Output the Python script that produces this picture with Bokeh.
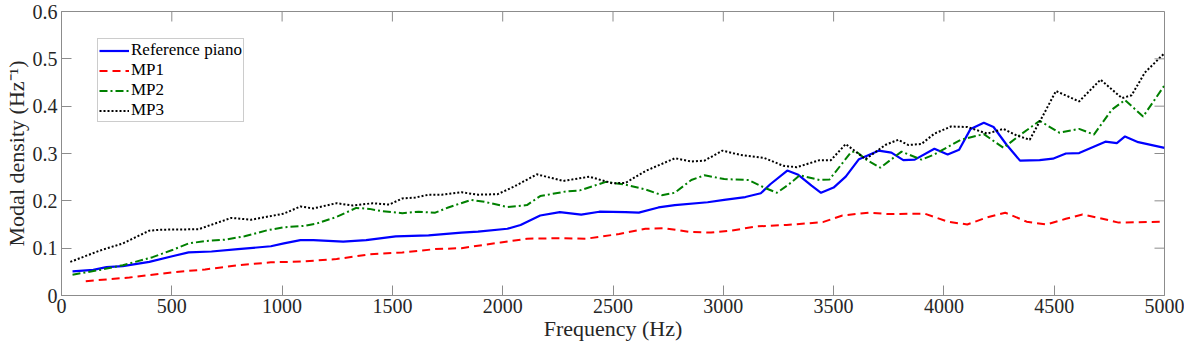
import math
from bokeh.plotting import figure
from bokeh.models import Legend, LegendItem, Range1d
from bokeh.embed import file_html
from bokeh.resources import INLINE

# ---------------- data ----------------
ref_f = [50, 144, 204, 278, 398, 502, 576, 680, 800, 949, 1008, 1083, 1142, 1277, 1381, 1515, 1664, 1813,
         1888, 2021, 2081, 2170, 2259, 2356, 2438, 2557, 2617, 2706, 2780, 2929, 3004, 3100, 3170, 3213,
         3290, 3340, 3400, 3443, 3500, 3555, 3615, 3704, 3762, 3816, 3868, 3957, 4017, 4069, 4121, 4181,
         4225, 4285, 4345, 4434, 4494, 4553, 4613, 4732, 4784, 4821, 4881, 5000]
ref_y = [0.051, 0.054, 0.060, 0.062, 0.071, 0.083, 0.091, 0.093, 0.098, 0.104, 0.110, 0.117, 0.117, 0.114,
         0.117, 0.125, 0.127, 0.133, 0.135, 0.141, 0.149, 0.169, 0.176, 0.171, 0.177, 0.176, 0.175, 0.186,
         0.191, 0.197, 0.202, 0.208, 0.216, 0.235, 0.264, 0.255, 0.232, 0.217, 0.228, 0.251, 0.288, 0.306,
         0.302, 0.286, 0.287, 0.310, 0.298, 0.308, 0.352, 0.365, 0.356, 0.318, 0.285, 0.286, 0.289, 0.300,
         0.301, 0.325, 0.322, 0.336, 0.324, 0.312]

mp1_f = [110, 204, 308, 502, 651, 800, 949, 1098, 1247, 1396, 1545, 1694, 1813, 1991, 2110, 2259, 2379,
         2528, 2647, 2736, 2855, 2944, 3034, 3153, 3287, 3451, 3540, 3659, 3749, 3913, 4017, 4106, 4196,
         4278, 4375, 4464, 4553, 4628, 4702, 4792, 5000]
mp1_y = [0.030, 0.034, 0.038, 0.049, 0.055, 0.064, 0.070, 0.072, 0.077, 0.087, 0.091, 0.098, 0.100, 0.112,
         0.120, 0.121, 0.120, 0.130, 0.141, 0.142, 0.134, 0.133, 0.137, 0.146, 0.149, 0.155, 0.169, 0.175,
         0.172, 0.173, 0.156, 0.150, 0.165, 0.175, 0.156, 0.150, 0.162, 0.171, 0.164, 0.154, 0.156]

mp2_f = [50, 174, 278, 413, 502, 576, 651, 740, 830, 934, 1008, 1098, 1157, 1247, 1336, 1396, 1455, 1545,
         1619, 1694, 1753, 1857, 1917, 2021, 2110, 2170, 2289, 2349, 2468, 2557, 2647, 2721, 2780, 2855,
         2915, 3004, 3115, 3190, 3243, 3295, 3347, 3436, 3481, 3578, 3600, 3645, 3712, 3808, 3898, 3957,
         4076, 4181, 4270, 4345, 4434, 4523, 4613, 4680, 4762, 4821, 4903, 5000]
mp2_y = [0.044, 0.054, 0.064, 0.081, 0.096, 0.110, 0.115, 0.118, 0.125, 0.138, 0.144, 0.147, 0.152, 0.166,
         0.185, 0.183, 0.178, 0.174, 0.177, 0.175, 0.186, 0.202, 0.198, 0.187, 0.191, 0.210, 0.220, 0.222,
         0.240, 0.234, 0.224, 0.212, 0.217, 0.244, 0.254, 0.246, 0.244, 0.227, 0.217, 0.234, 0.254, 0.244,
         0.245, 0.302, 0.305, 0.288, 0.270, 0.304, 0.287, 0.298, 0.329, 0.341, 0.312, 0.339, 0.369, 0.344,
         0.352, 0.340, 0.393, 0.413, 0.378, 0.444]

mp3_f = [40, 174, 278, 398, 450, 621, 770, 859, 1008, 1083, 1142, 1247, 1321, 1411, 1485, 1545, 1604, 1664,
         1723, 1813, 1888, 1977, 2051, 2155, 2274, 2393, 2498, 2557, 2647, 2781, 2855, 2915, 2996, 3078,
         3183, 3272, 3333, 3436, 3488, 3555, 3645, 3734, 3793, 3838, 3898, 3957, 4032, 4106, 4196, 4270,
         4330, 4389, 4449, 4508, 4613, 4710, 4807, 4851, 4911, 5000]
mp3_y = [0.071, 0.095, 0.110, 0.137, 0.139, 0.140, 0.164, 0.160, 0.173, 0.188, 0.184, 0.195, 0.190, 0.195,
         0.192, 0.205, 0.207, 0.213, 0.213, 0.218, 0.213, 0.214, 0.230, 0.256, 0.242, 0.251, 0.237, 0.238,
         0.263, 0.290, 0.283, 0.285, 0.306, 0.297, 0.291, 0.274, 0.271, 0.286, 0.286, 0.320, 0.288, 0.318,
         0.329, 0.318, 0.320, 0.342, 0.357, 0.356, 0.342, 0.352, 0.338, 0.329, 0.380, 0.432, 0.410, 0.456,
         0.417, 0.423, 0.471, 0.512]

series_names = ["Reference piano", "MP1", "MP2", "MP3"]
x_ticks = [0, 500, 1000, 1500, 2000, 2500, 3000, 3500, 4000, 4500, 5000]
y_ticks = [0, 0.1, 0.2, 0.3, 0.4, 0.5, 0.6]
x_min, x_max = 0, 5000
y_min, y_max = 0, 0.6
x_label = "Frequency (Hz)"
y_label = "Modal density (Hz\u207b\u00b9)"

# ---------------- figure ----------------
FONT = "Liberation Serif"
AX = "#8c8c8c"
TXT = "#262626"

p = figure(width=1184, height=343, output_backend="svg", toolbar_location=None,
           x_range=Range1d(x_min, x_max), y_range=Range1d(y_min, y_max),
           min_border_left=30, min_border_right=20, min_border_top=11, min_border_bottom=5)
p.grid.visible = False
p.outline_line_color = AX
p.background_fill_color = "white"
p.border_fill_color = "white"

styles = [
    dict(color="#0000ff", line_dash="solid", w=2.2),
    dict(color="#ff0000", line_dash="8 5", w=2),
    dict(color="#008000", line_dash="8 3 2 3", w=2),
    dict(color="#000000", line_dash="2 2", w=2),
]
data = [(ref_f, ref_y), (mp1_f, mp1_y), (mp2_f, mp2_y), (mp3_f, mp3_y)]
renderers = []
for (fx, fy), st in zip(data, styles):
    r = p.line(fx, fy, line_color=st["color"], line_dash=st["line_dash"], line_width=st["w"])
    renderers.append(r)

# inward ticks on the top and right edges (box style)
p.ray(x=x_ticks, y=[y_max] * len(x_ticks), length=10, length_units="screen",
      angle=-math.pi / 2, line_color=AX, line_width=1)
p.ray(x=[x_max] * len(y_ticks), y=y_ticks, length=10, length_units="screen",
      angle=math.pi, line_color=AX, line_width=1)

for ax in p.xaxis + p.yaxis:
    ax.axis_line_color = AX
    ax.major_tick_line_color = AX
    ax.minor_tick_line_color = None
    ax.major_tick_in = 10
    ax.major_tick_out = 0
    ax.major_label_text_font = FONT
    ax.major_label_text_color = TXT
    ax.major_label_text_font_size = "20px"
    ax.axis_label_text_font = FONT
    ax.axis_label_text_font_style = "normal"
    ax.axis_label_text_color = TXT
    ax.axis_label_text_font_size = "22px"

p.xaxis.ticker = x_ticks
p.yaxis.ticker = y_ticks
p.yaxis.major_label_overrides = {0: "0"}
p.xaxis.axis_label = x_label
p.yaxis.axis_label = y_label
p.xaxis.major_label_standoff = 3
p.xaxis.axis_label_standoff = 0
p.yaxis.major_label_standoff = 4
p.yaxis.axis_label_standoff = 1

legend = Legend(items=[LegendItem(label=n, renderers=[r]) for n, r in zip(series_names, renderers)],
                location=(36, 173))
legend.label_text_font = FONT
legend.label_text_font_size = "17px"
legend.label_text_color = "#000000"
legend.glyph_width = 30
legend.glyph_height = 17
legend.label_height = 17
legend.label_standoff = 2
legend.spacing = 0
legend.padding = 1
legend.margin = 0
legend.border_line_color = "#999999"
legend.border_line_width = 1
legend.background_fill_alpha = 1.0
p.add_layout(legend)

open("out.html", "w").write(file_html(p, INLINE))
